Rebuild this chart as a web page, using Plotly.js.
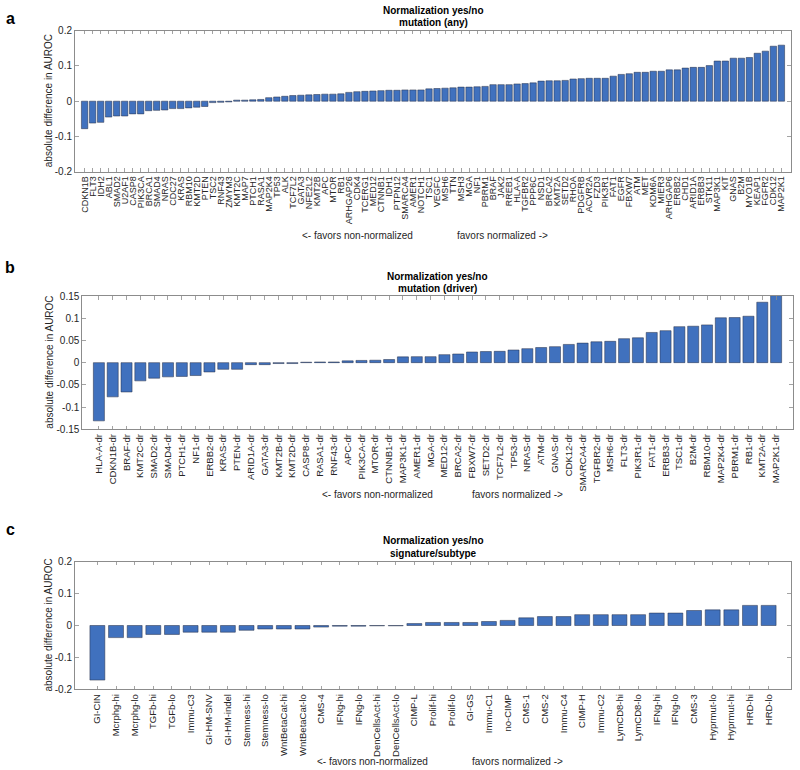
<!DOCTYPE html>
<html>
<head>
<meta charset="utf-8">
<script src="https://cdn.plot.ly/plotly-3.0.1.min.js"></script>
<style>html,body{margin:0;padding:0;background:#fff;}#chart{width:800px;height:770px;}</style>
</head>
<body>
<div id="chart"></div>
<script>
// ---------- DATA ----------
const aLabels = ["CDKN1B","FLT3","IDH2","ABL1","SMAD2","U2AF1","CASP8","PIK3CA","BRCA1","SMAD4","NRAS","CDC27","KRAS","RBM10","KMT2D","PTEN","TSC2","RNF43","ZMYM3","KMT2C","MAP7","PTCH1","RASA1","MAP2K4","TP53","ALK","TCF7L2","GATA3","NFE2L2","KMT2B","APC","MTOR","RB1","ARHGAP26","CDK4","TCERG1","MED12","CTNNB1","IDH1","PTPN12","SMARCA4","AMER1","NOTCH1","TSC1","VEGFC","MSH6","TTN","MSH3","MGA","NF1","PBRM1","BRAF","JAK2","RREB1","HLA-A","TGFBR2","PPP6C","NSD1","BRCA2","KMT2A","SETD2","RHOA","PDGFRB","ACVR2A","FZD3","PIK3R1","FAT1","EGFR","FBXW7","ATM","MET","KDM6A","MIER3","ARHGAP6","ERBB2","CHD1","ARID1A","ERBB3","STK11","MAP3K1","KIT","GNAS","B2M","MYO1B","KEAP1","FGFR2","CDK12","MAP2K1"];
const aValues = [-0.078,-0.062,-0.060,-0.045,-0.042,-0.042,-0.036,-0.036,-0.027,-0.026,-0.025,-0.021,-0.021,-0.019,-0.017,-0.015,-0.004,-0.003,-0.002,0.003,0.003,0.004,0.005,0.010,0.012,0.014,0.016,0.017,0.018,0.019,0.020,0.020,0.021,0.025,0.027,0.028,0.029,0.030,0.031,0.031,0.032,0.032,0.032,0.035,0.036,0.037,0.038,0.040,0.040,0.041,0.042,0.047,0.047,0.047,0.049,0.050,0.052,0.057,0.058,0.058,0.059,0.063,0.064,0.065,0.065,0.065,0.071,0.076,0.078,0.082,0.082,0.085,0.085,0.089,0.089,0.094,0.096,0.096,0.101,0.114,0.114,0.122,0.122,0.124,0.136,0.142,0.156,0.159];

const bLabels = ["HLA-A-dr","CDKN1B-dr","BRAF-dr","KMT2C-dr","SMAD2-dr","SMAD4-dr","PTCH1-dr","NF1-dr","ERBB2-dr","KRAS-dr","PTEN-dr","ARID1A-dr","GATA3-dr","KMT2B-dr","KMT2D-dr","CASP8-dr","RASA1-dr","RNF43-dr","APC-dr","PIK3CA-dr","MTOR-dr","CTNNB1-dr","MAP3K1-dr","AMER1-dr","MGA-dr","MED12-dr","BRCA2-dr","FBXW7-dr","SETD2-dr","TCF7L2-dr","TP53-dr","NRAS-dr","ATM-dr","GNAS-dr","CDK12-dr","SMARCA4-dr","TGFBR2-dr","MSH6-dr","FLT3-dr","PIK3R1-dr","FAT1-dr","ERBB3-dr","TSC1-dr","B2M-dr","RBM10-dr","MAP2K4-dr","PBRM1-dr","RB1-dr","KMT2A-dr","MAP2K1-dr"];
const bValues = [-0.131,-0.077,-0.066,-0.041,-0.035,-0.032,-0.031,-0.029,-0.021,-0.015,-0.015,-0.0045,-0.0045,-0.002,-0.002,0.001,0.0015,0.0015,0.004,0.005,0.0055,0.007,0.013,0.0135,0.0135,0.018,0.0195,0.024,0.025,0.0255,0.0285,0.0315,0.034,0.036,0.041,0.044,0.047,0.048,0.054,0.056,0.068,0.072,0.081,0.082,0.085,0.101,0.1015,0.1045,0.136,0.151];

const cLabels = ["GI-CIN","Mcrphg-hi","Mcrphg-lo","TGFb-hi","TGFb-lo","Immu-C3","GI-HM-SNV","GI-HM-indel","Stemness-hi","Stemness-lo","WntBetaCat-hi","WntBetaCat-lo","CMS-4","IFNg-hi","IFNg-lo","DenCellsAct-hi","DenCellsAct-lo","CIMP-L","Prolif-hi","Prolif-lo","GI-GS","Immu-C1","no-CIMP","CMS-1","CMS-2","Immu-C4","CIMP-H","Immu-C2","LymCD8-hi","LymCD8-lo","IFNg-hi","IFNg-lo","CMS-3","Hyprmut-lo","Hyprmut-hi","HRD-hi","HRD-lo"];
const cValues = [-0.171,-0.038,-0.038,-0.028,-0.028,-0.021,-0.021,-0.021,-0.015,-0.011,-0.011,-0.011,-0.005,-0.002,-0.002,-0.001,-0.001,0.006,0.0095,0.0095,0.0095,0.0125,0.016,0.024,0.028,0.028,0.034,0.034,0.034,0.034,0.039,0.039,0.047,0.049,0.049,0.063,0.063];

const yTicksA = [-0.2,-0.1,0,0.1,0.2];
const yTickTextA = ["-0.2","-0.1","0","0.1","0.2"];
const yTicksB = [-0.15,-0.1,-0.05,0,0.05,0.1,0.15];
const yTickTextB = ["-0.15","-0.1","-0.05","0","0.05","0.1","0.15"];
const yTicksC = [-0.2,-0.1,0,0.1,0.2];
const yTickTextC = ["-0.2","-0.1","0","0.1","0.2"];

const titleLine1 = "Normalization yes/no";
const subtitles = ["mutation (any)","mutation (driver)","signature/subtype"];
const panelLetters = ["a","b","c"];
const yTitle = "absolute difference in AUROC";
const xLeftText = "<- favors non-normalized";
const xRightText = "favors normalized ->";

// ---------- LAYOUT HELPERS ----------
const W = 800, H = 770;
const px = x => x / W;
const py = y => 1 - y / H;
const FONT = "Liberation Sans, Arial, Helvetica, sans-serif";
const barColor = "rgb(64,113,190)";
const axisColor = "#8c8c8c";

const panels = [
  {labels: aLabels, values: aValues, yt: yTicksA, ytt: yTickTextA, yr: [-0.2, 0.2],
   left: 75, right: 791, top: 30.7, bottom: 171.7, xfont: 9,
   t1: 10, t2: 22.5, letterY: 19, ytx: 48, xlY: 235, xl1: 300, xl2: 455},
  {labels: bLabels, values: bValues, yt: yTicksB, ytt: yTickTextB, yr: [-0.15, 0.15],
   left: 82.3, right: 792.7, top: 296, bottom: 429.3, xfont: 9.5,
   t1: 276.7, t2: 288.6, letterY: 267, ytx: 50, xlY: 494, xl1: 320, xl2: 470},
  {labels: cLabels, values: cValues, yt: yTicksC, ytt: yTickTextC, yr: [-0.2, 0.2],
   left: 75, right: 791, top: 561.7, bottom: 689.3, xfont: 9.5,
   t1: 540.7, t2: 553.3, letterY: 529, ytx: 48, xlY: 761, xl1: 315, xl2: 470}
];

const data = [];
const layout = {
  width: W, height: H,
  margin: {l: 0, r: 0, t: 0, b: 0},
  paper_bgcolor: "#fff", plot_bgcolor: "#fff",
  showlegend: false,
  font: {family: FONT, size: 10, color: "#262626"},
  bargap: 0.2,
  annotations: []
};

panels.forEach((p, i) => {
  const sfx = i === 0 ? "" : String(i + 1);
  const xs = p.labels.map((_, k) => k);
  data.push({
    type: "bar", x: xs, y: p.values,
    xaxis: "x" + sfx, yaxis: "y" + sfx,
    width: 0.8,
    marker: {color: barColor, line: {color: "rgba(35,45,70,0.85)", width: 0.6}},
    hoverinfo: "skip"
  });
  const n = p.labels.length;
  layout["xaxis" + sfx] = {
    domain: [px(p.left), px(p.right)],
    anchor: "y" + sfx,
    range: [-1.2, n - 1 + 1.2],
    tickmode: "array", tickvals: xs, ticktext: p.labels,
    tickangle: -90,
    ticks: "inside", ticklen: 3.5, tickwidth: 0.8, tickcolor: axisColor,
    showline: true, linecolor: axisColor, linewidth: 1, mirror: "ticks",
    showgrid: false, zeroline: false, automargin: false, fixedrange: true,
    tickfont: {family: FONT, size: p.xfont, color: "#262626"}
  };
  layout["yaxis" + sfx] = {
    domain: [py(p.bottom), py(p.top)],
    anchor: "x" + sfx,
    range: p.yr,
    tickmode: "array", tickvals: p.yt, ticktext: p.ytt,
    ticks: "inside", ticklen: 4, tickwidth: 0.8, tickcolor: axisColor,
    showline: true, linecolor: axisColor, linewidth: 1, mirror: "ticks",
    showgrid: false, zeroline: false, automargin: false, fixedrange: true,
    tickfont: {family: FONT, size: 10, color: "#262626"}
  };
  const cx = (p.left + p.right) / 2;
  layout.annotations.push(
    {xref: "paper", yref: "paper", x: px(cx), y: py(p.t1), xanchor: "center", yanchor: "middle",
     text: "<b>" + titleLine1 + "</b>", showarrow: false, font: {family: FONT, size: 10, color: "#000"}},
    {xref: "paper", yref: "paper", x: px(cx), y: py(p.t2), xanchor: "center", yanchor: "middle",
     text: "<b>" + subtitles[i] + "</b>", showarrow: false, font: {family: FONT, size: 10, color: "#000"}},
    {xref: "paper", yref: "paper", x: px(10), y: py(p.letterY), xanchor: "center", yanchor: "middle",
     text: "<b>" + panelLetters[i] + "</b>", showarrow: false, font: {family: FONT, size: 16, color: "#000"}},
    {xref: "paper", yref: "paper", x: px(p.ytx), y: py((p.top + p.bottom) / 2), xanchor: "center", yanchor: "middle",
     text: yTitle, textangle: -90, showarrow: false, font: {family: FONT, size: 10, color: "#262626"}},
    {xref: "paper", yref: "paper", x: px(p.xl1), y: py(p.xlY), xanchor: "left", yanchor: "middle",
     text: xLeftText.replace("<", "&lt;"), showarrow: false, font: {family: FONT, size: 10, color: "#262626"}},
    {xref: "paper", yref: "paper", x: px(p.xl2), y: py(p.xlY), xanchor: "left", yanchor: "middle",
     text: xRightText.replace(">", "&gt;"), showarrow: false, font: {family: FONT, size: 10, color: "#262626"}}
  );
});

Plotly.newPlot("chart", data, layout, {staticPlot: true, displayModeBar: false});
</script>
</body>
</html>
